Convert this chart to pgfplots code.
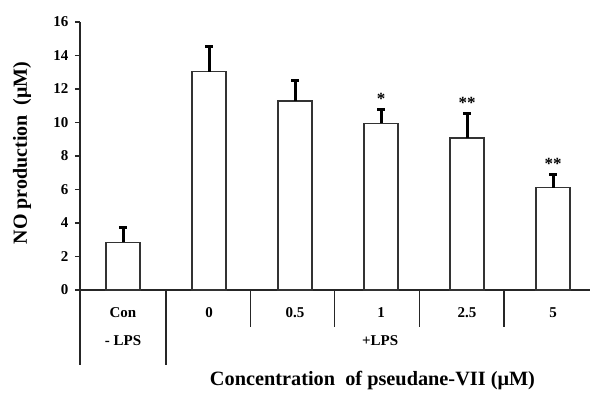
\documentclass[border=0pt]{standalone}
\usepackage{fontspec}
\setmainfont{Liberation Serif}
\usepackage{pgfplots}
\pgfplotsset{compat=1.18}
\begin{document}
\begin{tikzpicture}
\path[use as bounding box] (-80pt,-108pt) rectangle (510pt,290pt);
\begin{axis}[
  at={(0pt,0pt)}, anchor=south west,
  scale only axis, width=510pt, height=268pt,
  xmin=-0.5, xmax=5.43, ymin=0, ymax=16,
  axis x line*=bottom, axis y line*=left,
  axis line style={line width=1.5pt, black!85},
  ytick={0,2,...,16}, tick align=outside, major tick length=5pt,
  y tick style={line width=1.5pt, black!85},
  x tick style={draw=none},
  xtick={0,...,5}, xticklabels={Con,0,0.5,1,2.5,5},
  xticklabel style={anchor=center, yshift=-17.7pt},
  yticklabel style={xshift=-3pt},
  tick label style={font=\fontsize{15}{17}\selectfont\bfseries},
  /pgf/number format/assume math mode=true,
  clip=false,
  ylabel={NO production\ \ (μM)},
  ylabel style={at={(axis description cs:-0.1137,0.511)}, anchor=center, font=\fontsize{20}{23}\selectfont\bfseries},
  xlabel={Concentration\ \ of pseudane-VII (μM)},
  xlabel style={at={(axis description cs:0.5735,-0.3396)}, anchor=center, font=\fontsize{20.3}{23}\selectfont\bfseries},
]
\addplot[ybar, bar width=34pt, fill=white, draw=black!80, line width=1.5pt,
  error bars/.cd, y dir=plus, y explicit,
  error bar style={line width=3pt, black},
  error mark options={rotate=90, line width=3pt, mark size=4pt, black}]
  coordinates {
    (0,2.85) +- (0,0.87)
    (1,13.03) +- (0,1.50)
    (2,11.28) +- (0,1.20)
    (3,9.95) +- (0,0.80)
    (4,9.06) +- (0,1.49)
    (5,6.11) +- (0,0.79)
  };
\addplot[draw=none, mark=none, nodes near coords, point meta=explicit symbolic,
  nodes near coords style={anchor=base, yshift=5pt, inner sep=0pt, font=\fontsize{17}{20}\selectfont\bfseries}]
  coordinates {(3,10.75)[*] (4,10.55)[**] (5,6.9)[**]};
\draw[line width=1.5pt, black!85] (axis cs:-0.5,0) -- ++(0pt,-75pt);
\draw[line width=1.5pt, black!85] (axis cs:0.5,0) -- ++(0pt,-75pt);
\draw[line width=1.5pt, black!85] (axis cs:1.48,0) -- ++(0pt,-37pt);
\draw[line width=1.5pt, black!85] (axis cs:2.46,0) -- ++(0pt,-37pt);
\draw[line width=1.5pt, black!85] (axis cs:3.45,0) -- ++(0pt,-37pt);
\draw[line width=1.5pt, black!85] (axis cs:4.43,0) -- ++(0pt,-37pt);
\node[font=\fontsize{15}{17}\selectfont\bfseries, yshift=-51pt] at (axis cs:0,0) {- LPS};
\node[font=\fontsize{15}{17}\selectfont\bfseries, yshift=-51pt] at (axis cs:2.99,0) {+LPS};
\end{axis}
\end{tikzpicture}
\end{document}
